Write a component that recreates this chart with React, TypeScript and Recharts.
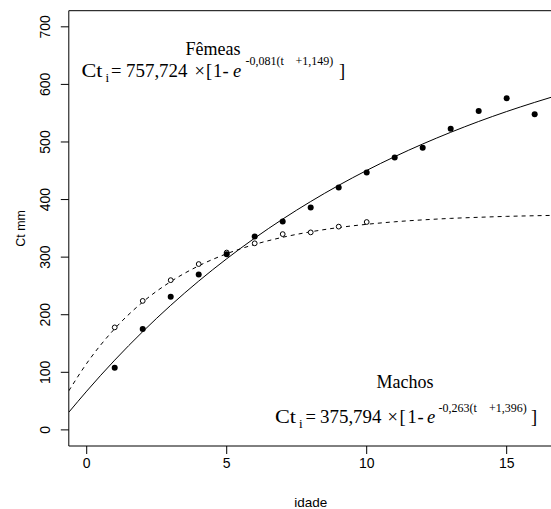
import React from 'react';
import { ComposedChart, Line, Scatter, XAxis, YAxis, ReferenceLine } from 'recharts';

// ---- data ----
const ageTicks = [0, 5, 10, 15];
const ctTicks = [0, 100, 200, 300, 400, 500, 600, 700];

const femaleAges = [1, 2, 3, 4, 5, 6, 7, 8, 9, 10, 11, 12, 13, 14, 15, 16];
const femaleCt = [108, 175, 231, 270, 305, 336, 362, 386, 421, 447, 473, 490, 523, 554, 576, 548];

const maleAges = [1, 2, 3, 4, 5, 6, 7, 8, 9, 10];
const maleCt = [178, 224, 260, 288, 308, 324, 340, 343, 353, 361];

const curveAges = [-0.64, 0, 1, 2, 3, 4, 5, 6, 7, 8, 9, 10, 11, 12, 13, 14, 15, 16, 16.64];
const femaleCurve = [30.6, 67.3, 121.1, 170.6, 216.3, 258.4, 297.2, 333.1, 366.1, 396.6, 424.7, 450.6, 474.5, 496.5, 516.8, 535.6, 552.9, 568.8, 578.4];
const maleCurve = [67.8, 115.5, 175.7, 222.0, 257.5, 284.9, 305.9, 322.1, 334.5, 344.0, 351.4, 357.0, 361.4, 364.7, 367.3, 369.2, 370.8, 371.9, 372.5];

const femalePts = femaleAges.map((t, i) => ({ t, v: femaleCt[i] }));
const malePts = maleAges.map((t, i) => ({ t, v: maleCt[i] }));
const femaleLine = curveAges.map((t, i) => ({ t, v: femaleCurve[i] }));
const maleLine = curveAges.map((t, i) => ({ t, v: maleCurve[i] }));

const SANS = '"Liberation Sans", Arial, Helvetica, sans-serif';
const SERIF = '"Liberation Serif", "Times New Roman", Times, serif';

const YTick = (props: any) => {
  const { x, y, payload } = props;
  const bx = x - 9;
  return (
    <text x={bx} y={y} transform={`rotate(-90 ${bx} ${y})`} textAnchor="middle"
      fontFamily={SANS} fontSize={14} fill="#000">{payload.value}</text>
  );
};

const XTick = (props: any) => {
  const { x, y, payload } = props;
  return (
    <text x={x} y={y + 12} textAnchor="middle" fontFamily={SANS} fontSize={14} fill="#000">
      {payload.value}
    </text>
  );
};

const FilledDot = (p: any) => <circle cx={p.cx} cy={p.cy} r={3} fill="#000" />;
const OpenDot = (p: any) => <circle cx={p.cx} cy={p.cy} r={2.4} fill="#fff" stroke="#000" strokeWidth={1} />;

type Piece = { s: string; x: number; y: number; size: number; len?: number; it?: boolean };

const Eq = ({ pieces }: { pieces: Piece[] }) => (
  <g fontFamily={SERIF} fill="#000">
    {pieces.map((p, i) => (
      <text key={i} x={p.x} y={p.y} fontSize={p.size} fontStyle={p.it ? 'italic' : 'normal'}
        {...(p.len ? { textLength: p.len, lengthAdjust: 'spacingAndGlyphs' } : {})}>{p.s}</text>
    ))}
  </g>
);

const fy = 76.7, fs = 65;
const femaleEq: Piece[] = [
  { s: 'Ct', x: 81.5, y: fy, size: 19, len: 21 },
  { s: 'i', x: 105.5, y: fy + 4.8, size: 13 },
  { s: '=', x: 111, y: fy, size: 18.5 },
  { s: '757,724', x: 126, y: fy, size: 18.5, len: 61.5 },
  { s: '\u00d7', x: 194.5, y: fy, size: 18.5 },
  { s: '[', x: 206, y: fy, size: 18.5 },
  { s: '1', x: 213, y: fy, size: 18.5 },
  { s: '-', x: 222.5, y: fy, size: 18.5 },
  { s: 'e', x: 233, y: fy, size: 18.5, it: true },
  { s: '-0,081(t', x: 245.5, y: fs, size: 12 },
  { s: '+1,149)', x: 295.5, y: fs, size: 12 },
  { s: ']', x: 339, y: fy, size: 18.5 },
];

const my = 423.3, ms = 411.7;
const maleEq: Piece[] = [
  { s: 'Ct', x: 275, y: my, size: 19, len: 21 },
  { s: 'i', x: 299, y: my + 4.8, size: 13 },
  { s: '=', x: 305.5, y: my, size: 18.5 },
  { s: '375,794', x: 320, y: my, size: 18.5, len: 61.5 },
  { s: '\u00d7', x: 387.5, y: my, size: 18.5 },
  { s: '[', x: 399.5, y: my, size: 18.5 },
  { s: '1', x: 407.5, y: my, size: 18.5 },
  { s: '-', x: 417.5, y: my, size: 18.5 },
  { s: 'e', x: 427, y: my, size: 18.5, it: true },
  { s: '-0,263(t', x: 438.5, y: ms, size: 12 },
  { s: '+1,396)', x: 489, y: ms, size: 12 },
  { s: ']', x: 531, y: my, size: 18.5 },
];

export default function App() {
  return (
    <div style={{ position: 'absolute', left: 0, top: 0, width: 551, height: 509, overflow: 'hidden', background: '#fff' }}>
      <ComposedChart width={553} height={509} margin={{ top: 10.7, right: 0.4, bottom: 0, left: 0 }}>
        <XAxis dataKey="t" type="number" domain={[-0.64, 16.64]} ticks={ageTicks} allowDataOverflow
          height={63} tickSize={8} tick={<XTick />} axisLine={{ stroke: '#000' }} tickLine={{ stroke: '#000' }}
          label={{ value: 'idade', position: 'insideBottom', offset: 2, fontFamily: SANS, fontSize: 13.5, fill: '#000' }} />
        <YAxis type="number" domain={[-28, 728]} ticks={ctTicks} allowDataOverflow
          width={68.8} tickSize={8} tick={<YTick />} axisLine={{ stroke: '#000' }} tickLine={{ stroke: '#000' }} />
        <ReferenceLine y={728} stroke="#000" strokeWidth={1} />
        <Line data={maleLine} dataKey="v" type="monotone" stroke="#000" strokeWidth={1} strokeDasharray="4 4" dot={false} isAnimationActive={false} />
        <Line data={femaleLine} dataKey="v" type="monotone" stroke="#000" strokeWidth={1} dot={false} isAnimationActive={false} />
        <Scatter data={malePts} dataKey="v" shape={<OpenDot />} isAnimationActive={false} />
        <Scatter data={femalePts} dataKey="v" shape={<FilledDot />} isAnimationActive={false} />
      </ComposedChart>
      <svg width={551} height={509} style={{ position: 'absolute', left: 0, top: 0, pointerEvents: 'none' }}>
        <text x={25} y={228.4} transform="rotate(-90 25 228.4)" textAnchor="middle" fontFamily={SANS} fontSize={12.5} fill="#000">Ct mm</text>
        <text x={213} y={55} textAnchor="middle" fontFamily={SERIF} fontSize={18} fill="#000">Fêmeas</text>
        <text x={405} y={388.3} textAnchor="middle" fontFamily={SERIF} fontSize={18} fill="#000">Machos</text>
        <Eq pieces={femaleEq} />
        <Eq pieces={maleEq} />
      </svg>
    </div>
  );
}
